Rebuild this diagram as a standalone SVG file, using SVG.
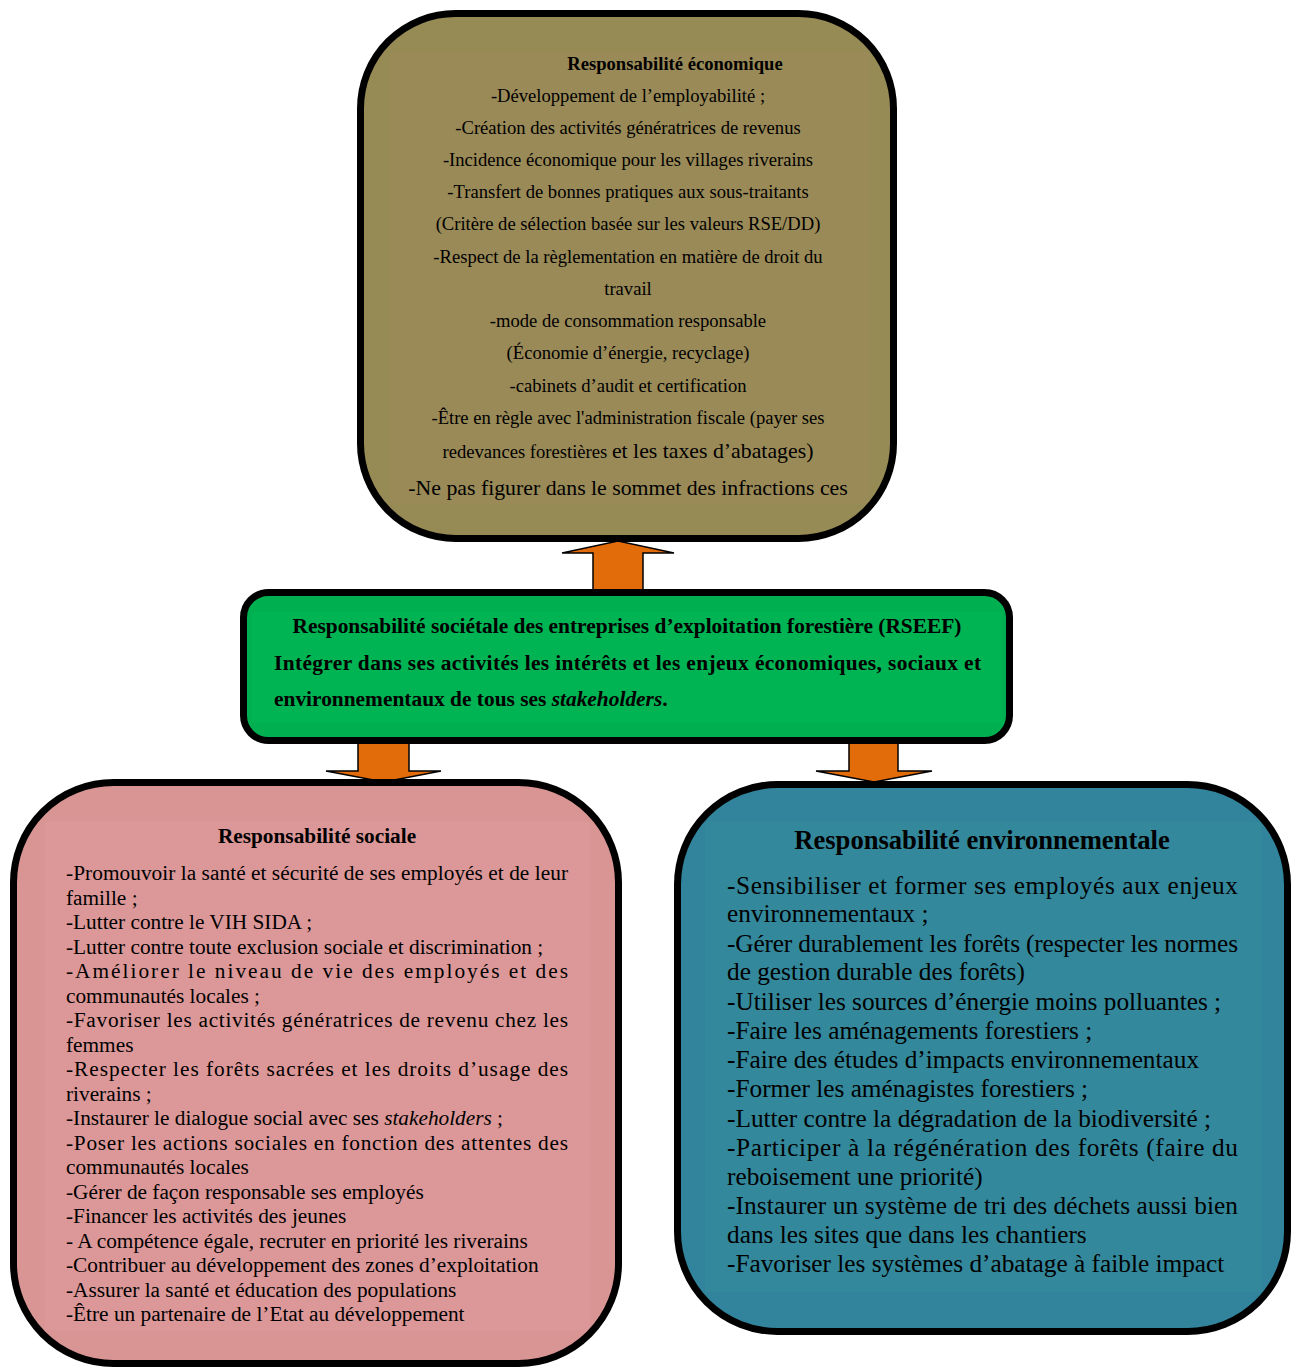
<svg xmlns="http://www.w3.org/2000/svg" width="1299" height="1369" viewBox="0 0 1299 1369">
<style>
text{font-family:"Liberation Serif","Times New Roman",serif;fill:#000}
.box{stroke:#000;stroke-width:7;fill:none}
.arrow{fill:#e36c0a;stroke:#000;stroke-width:1.5;stroke-linejoin:miter}
.eco{font-size:18.6px;text-anchor:middle}
.ecoL{font-size:21.8px}
.b{font-weight:bold}
.cen{font-size:21.4px;font-weight:bold}
.soc{font-size:21.3px}
.env{font-size:25.3px}
.envT{font-size:26.6px;font-weight:bold}
.i{font-style:italic}
</style>
<rect width="1299" height="1369" fill="#fff"/>
<g id="connectors">
<polygon class="arrow" points="593,591 593,553 562,553 618,541 674,553 643,553 643,591"/>
<polygon class="arrow" points="358,742 358,771 326,771 384,782 441,771 409,771 409,742"/>
<polygon class="arrow" points="849,742 849,771 816,771 874,782 932,771 898,771 898,742"/>
</g>
<g id="node-economique">
<rect x="360.5" y="13.5" width="533" height="525" rx="95" fill="#968a55"/>
<rect x="390" y="52" width="480" height="452" fill="#9b8a58" opacity="0.8"/>
<rect class="box" x="360.5" y="13.5" width="533" height="525" rx="95"/>
<text class="eco b" x="675" y="69.5">Responsabilité économique</text>
<text class="eco" x="628" y="101.5">-Développement de l’employabilité ;</text>
<text class="eco" x="628" y="133.5">-Création des activités génératrices de revenus</text>
<text class="eco" x="628" y="165.5">-Incidence économique pour les villages riverains</text>
<text class="eco" x="628" y="197.5">-Transfert de bonnes pratiques aux sous-traitants</text>
<text class="eco" x="628" y="229.5">(Critère de sélection basée sur les valeurs RSE/DD)</text>
<text class="eco" x="628" y="262.5">-Respect de la règlementation en matière de droit du</text>
<text class="eco" x="628" y="294.5">travail</text>
<text class="eco" x="628" y="326.5">-mode de consommation responsable</text>
<text class="eco" x="628" y="358.5">(Économie d’énergie, recyclage)</text>
<text class="eco" x="628" y="391.5">-cabinets d’audit et certification</text>
<text class="eco" x="628" y="423.5">-Être en règle avec l'administration fiscale (payer ses</text>
<text class="eco" x="628" y="457.5">redevances forestières <tspan class="ecoL">et les taxes d’abatages)</tspan></text>
<text class="eco ecoL" x="628" y="494.5">-Ne pas figurer dans le sommet des infractions ces</text>
</g>
<g id="node-rseef">
<rect x="243.5" y="592.5" width="766" height="148" rx="25" fill="#00b050"/>
<rect x="252" y="612" width="750" height="110" fill="#00b454" opacity="0.8"/>
<rect class="box" x="243.5" y="592.5" width="766" height="148" rx="25"/>
<text class="cen" x="627" y="633" text-anchor="middle">Responsabilité sociétale des entreprises d’exploitation forestière (RSEEF)</text>
<text class="cen" x="274" y="670" textLength="707" lengthAdjust="spacing">Intégrer dans ses activités les intérêts et les enjeux économiques, sociaux et</text>
<text class="cen" x="274" y="706">environnementaux de tous ses <tspan class="i">stakeholders</tspan>.</text>
</g>
<g id="node-sociale">
<rect x="13.5" y="782.5" width="605" height="581" rx="100" fill="#d99594"/>
<rect x="45" y="822" width="545" height="508" fill="#dc9898" opacity="0.8"/>
<rect class="box" x="13.5" y="782.5" width="605" height="581" rx="100"/>
<text class="soc b" x="317" y="843" text-anchor="middle">Responsabilité sociale</text>
<text class="soc" x="66" y="880" textLength="502" lengthAdjust="spacing">-Promouvoir la santé et sécurité de ses employés et de leur</text>
<text class="soc" x="66" y="905">famille ;</text>
<text class="soc" x="66" y="929">-Lutter contre le VIH SIDA ;</text>
<text class="soc" x="66" y="954">-Lutter contre toute exclusion sociale et discrimination ;</text>
<text class="soc" x="66" y="978" textLength="502" lengthAdjust="spacing">-Améliorer le niveau de vie des employés et des</text>
<text class="soc" x="66" y="1003">communautés locales ;</text>
<text class="soc" x="66" y="1027" textLength="502" lengthAdjust="spacing">-Favoriser les activités génératrices de revenu chez les</text>
<text class="soc" x="66" y="1052">femmes</text>
<text class="soc" x="66" y="1076" textLength="502" lengthAdjust="spacing">-Respecter les forêts sacrées et les droits d’usage des</text>
<text class="soc" x="66" y="1101">riverains ;</text>
<text class="soc" x="66" y="1125">-Instaurer le dialogue social avec ses <tspan class="i">stakeholders</tspan> ;</text>
<text class="soc" x="66" y="1150" textLength="502" lengthAdjust="spacing">-Poser les actions sociales en fonction des attentes des</text>
<text class="soc" x="66" y="1174">communautés locales</text>
<text class="soc" x="66" y="1199">-Gérer de façon responsable ses employés</text>
<text class="soc" x="66" y="1223">-Financer les activités des jeunes</text>
<text class="soc" x="66" y="1248">- A compétence égale, recruter en priorité les riverains</text>
<text class="soc" x="66" y="1272">-Contribuer au développement des zones d’exploitation</text>
<text class="soc" x="66" y="1297">-Assurer la santé et éducation des populations</text>
<text class="soc" x="66" y="1321">-Être un partenaire de l’Etat au développement</text>
</g>
<g id="node-environnementale">
<rect x="677.5" y="784.5" width="610" height="547" rx="100" fill="#31849b"/>
<rect x="705" y="822" width="557" height="470" fill="#348a9c" opacity="0.8"/>
<rect class="box" x="677.5" y="784.5" width="610" height="547" rx="100"/>
<text class="envT" x="982" y="849" text-anchor="middle">Responsabilité environnementale</text>
<text class="env" x="727" y="894" textLength="511" lengthAdjust="spacing">-Sensibiliser et former ses employés aux enjeux</text>
<text class="env" x="727" y="922">environnementaux ;</text>
<text class="env" x="727" y="952" textLength="511" lengthAdjust="spacing">-Gérer durablement les forêts (respecter les normes</text>
<text class="env" x="727" y="980">de gestion durable des forêts)</text>
<text class="env" x="727" y="1010">-Utiliser les sources d’énergie moins polluantes ;</text>
<text class="env" x="727" y="1039">-Faire les aménagements forestiers ;</text>
<text class="env" x="727" y="1068">-Faire des études d’impacts environnementaux</text>
<text class="env" x="727" y="1097">-Former les aménagistes forestiers ;</text>
<text class="env" x="727" y="1127">-Lutter contre la dégradation de la biodiversité ;</text>
<text class="env" x="727" y="1156" textLength="511" lengthAdjust="spacing">-Participer à la régénération des forêts (faire du</text>
<text class="env" x="727" y="1185">reboisement une priorité)</text>
<text class="env" x="727" y="1214" textLength="511" lengthAdjust="spacing">-Instaurer un système de tri des déchets aussi bien</text>
<text class="env" x="727" y="1243">dans les sites que dans les chantiers</text>
<text class="env" x="727" y="1272">-Favoriser les systèmes d’abatage à faible impact</text>
</g>
</svg>
